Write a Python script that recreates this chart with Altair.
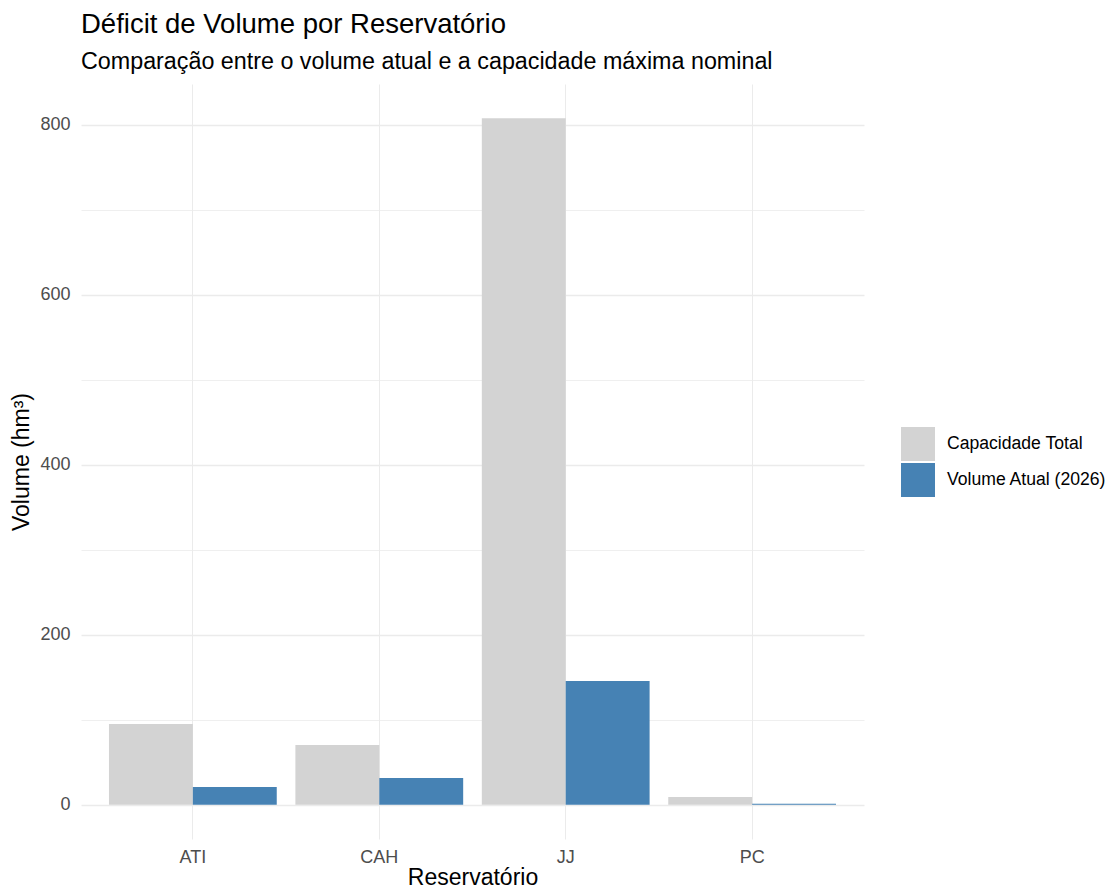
import altair as alt
import pandas as pd

reservatorios = ["ATI", "CAH", "JJ", "PC"]
capacidade_total = [94.8, 70.2, 807.3, 9.0]
volume_atual = [20.8, 31.4, 145.4, 1.2]
series = ["Capacidade Total", "Volume Atual (2026)"]
cores = ["#D3D3D3", "#4682B4"]
y_ticks = [0, 100, 200, 300, 400, 500, 600, 700, 800]

rows = []
for r, c, v in zip(reservatorios, capacidade_total, volume_atual):
    rows.append({"Reservatório": r, "Série": series[0], "Volume": c})
    rows.append({"Reservatório": r, "Série": series[1], "Volume": v})
df = pd.DataFrame(rows)

FONT = "Liberation Sans"

chart = alt.Chart(df).mark_bar(strokeWidth=0).encode(
    x=alt.X(
        "Reservatório:N",
        sort=reservatorios,
        scale=alt.Scale(paddingInner=0.1, paddingOuter=0.15),
        axis=alt.Axis(
            title="Reservatório",
            bandPosition=0.5,
            labelAngle=0,
            labelPadding=9,
            titlePadding=0,
            grid=True,
        ),
    ),
    xOffset=alt.XOffset(
        "Série:N", sort=series, scale=alt.Scale(paddingInner=0, paddingOuter=0)
    ),
    y=alt.Y(
        "Volume:Q",
        stack=None,
        scale=alt.Scale(domain=[-40.4, 847.7], nice=False, zero=False),
        axis=alt.Axis(
            title="Volume (hm³)",
            values=y_ticks,
            labelExpr="datum.value % 200 === 0 ? datum.label : ''",
            gridWidth={"condition": {"test": "datum.value % 200 === 0", "value": 1.4}, "value": 0.8},
            labelPadding=11,
            titlePadding=6,
        ),
    ),
    y2=alt.datum(0),
    color=alt.Color(
        "Série:N",
        sort=series,
        scale=alt.Scale(domain=series, range=cores),
        legend=alt.Legend(
            title=None,
            orient="none",
            legendX=820,
            legendY=343,
            symbolType="square",
            symbolSize=1156,
            symbolStrokeWidth=0,
            symbolOpacity=1,
            labelFontSize=17.6,
            labelFont=FONT,
            labelColor="black",
            labelLimit=0,
            rowPadding=2,
            labelOffset=12,
            padding=0,
        ),
    ),
).properties(
    width=783,
    height=755,
    autosize=alt.AutoSizeParams(type="none"),
    padding={"left": 73, "top": 76, "right": 243, "bottom": 48},
    title=alt.TitleParams(
        text="Déficit de Volume por Reservatório",
        subtitle="Comparação entre o volume atual e a capacidade máxima nominal",
        anchor="start",
        frame="group",
        font=FONT,
        subtitleFont=FONT,
        fontSize=27.5,
        subtitleFontSize=23.3,
        fontWeight="normal",
        color="black",
        subtitleColor="black",
        offset=11,
        subtitlePadding=12,
    ),
).configure_view(stroke=None).configure_axis(
    domain=False,
    ticks=False,
    tickSize=0,
    gridColor="#EBEBEB",
    labelFont=FONT,
    labelFontSize=18,
    labelColor="#4D4D4D",
    titleFont=FONT,
    titleFontSize=23,
    titleFontWeight="normal",
    titleColor="black",
)

chart.save("out.html", embed_options={"renderer": "svg", "actions": False})
